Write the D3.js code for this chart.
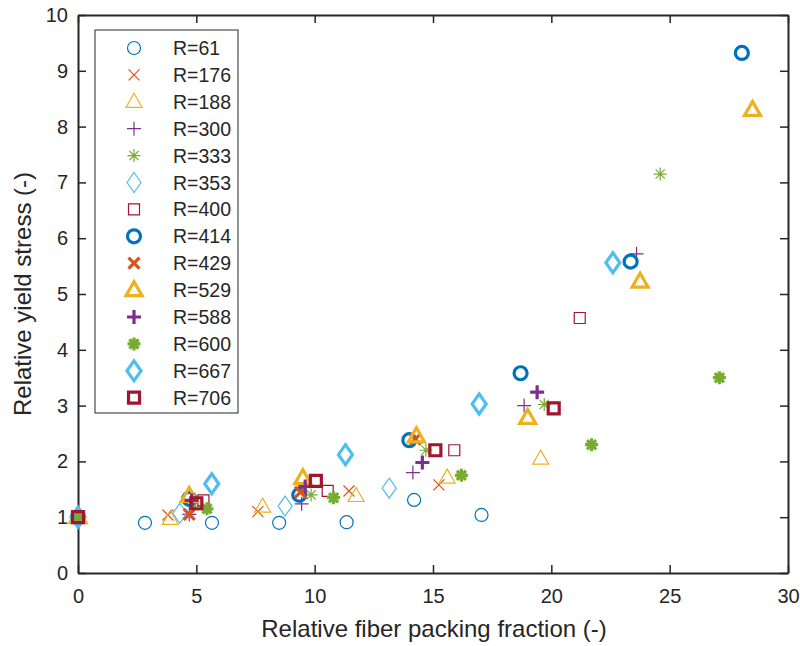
<html>
<head>
<meta charset="utf-8">
<script src="https://cdn.jsdelivr.net/npm/d3@7"></script>
<style>
body {
	margin: 0;
	background: #fff;
}
svg {
	font-family: "Liberation Sans", Arial, sans-serif;
}
.axis path, .axis line {
	stroke: #262626;
}
.axis text {
	fill: #262626;
	font-size: 20px;
}
</style>
</head>
<body>
<svg id="chart" width="800" height="646"></svg>
<script>

// 图例名称
var names = ["R=61","R=176","R=188","R=300","R=333","R=353","R=400",
             "R=414","R=429","R=529","R=588","R=600","R=667","R=706"];

// 数据 (相对纤维堆积分数, 相对屈服应力)
var r61x  = [0, 2.83, 5.66, 8.5, 11.35, 14.2, 17.05];
var r61y  = [1, 0.9, 0.9, 0.9, 0.91, 1.31, 1.04];
var r176x = [0, 3.8, 7.6, 11.45, 15.25];
var r176y = [1, 1.04, 1.1, 1.47, 1.58];
var r188x = [0, 3.9, 7.8, 11.75, 15.6, 19.55];
var r188y = [1, 0.97, 1.19, 1.38, 1.71, 2.05];
var r300x = [0, 4.7, 9.45, 14.15, 18.85, 23.6];
var r300y = [1, 1.05, 1.24, 1.8, 3.0, 5.72];
var r333x = [0, 4.9, 9.85, 14.7, 19.7, 24.6];
var r333y = [1, 1.2, 1.4, 2.2, 3.02, 7.15];
var r353x = [0, 4.3, 8.75, 13.15];
var r353y = [1, 1.07, 1.2, 1.52];
var r400x = [0, 5.3, 10.55, 15.9, 21.2];
var r400y = [1, 1.3, 1.47, 2.2, 4.57];
var r414x = [0, 4.7, 9.35, 14.0, 18.7, 23.35, 28.05];
var r414y = [1, 1.33, 1.4, 2.38, 3.58, 5.58, 9.32];
var r429x = [0, 4.7, 9.4, 14.25];
var r429y = [1, 1.05, 1.45, 2.4];
var r529x = [0, 4.7, 9.5, 14.3, 19.0, 23.75, 28.5];
var r529y = [1, 1.38, 1.7, 2.45, 2.78, 5.22, 8.3];
var r588x = [0, 4.8, 9.6, 14.55, 19.4];
var r588y = [1, 1.3, 1.55, 1.98, 3.24];
var r600x = [0, 5.45, 10.8, 16.2, 21.7, 27.1];
var r600y = [1, 1.15, 1.35, 1.75, 2.3, 3.5];
var r667x = [0, 5.65, 11.3, 16.95, 22.6];
var r667y = [1, 1.6, 2.12, 3.03, 5.56];
var r706x = [0, 5.0, 10.05, 15.1, 20.1];
var r706y = [1, 1.25, 1.65, 2.2, 2.95];

var xTicks = [0, 5, 10, 15, 20, 25, 30];
var yTicks = [0, 1, 2, 3, 4, 5, 6, 7, 8, 9, 10];

var allX = [r61x,r176x,r188x,r300x,r333x,r353x,r400x,r414x,r429x,r529x,r588x,r600x,r667x,r706x];
var allY = [r61y,r176y,r188y,r300y,r333y,r353y,r400y,r414y,r429y,r529y,r588y,r600y,r667y,r706y];

// matlab 默认颜色和标记
var colors = ["#0072BD","#D95319","#EDB120","#7E2F8E","#77AC30","#4DBEEE","#A2142F"];
var markerTypes = ["o","x","^","+","*","d","s"];

var svg = d3.select("#chart"),
    margin = {top: 15, left: 78, bottom: 73, right: 12},
    width = +svg.attr("width") - margin.left - margin.right,
    height = +svg.attr("height") - margin.top - margin.bottom;

var x = d3.scaleLinear().domain([0, 30]).range([margin.left, margin.left + width]);
var y = d3.scaleLinear().domain([0, 10]).range([margin.top + height, margin.top]);

function markerPath(type) {
    var p = d3.path();
    if (type == "o") {
        p.moveTo(6.5, 0);
        p.arc(0, 0, 6.5, 0, 2 * Math.PI);
    } else if (type == "x") {
        p.moveTo(-5.5, -5.5); p.lineTo(5.5, 5.5);
        p.moveTo(-5.5, 5.5); p.lineTo(5.5, -5.5);
    } else if (type == "^") {
        p.moveTo(0, -8.5); p.lineTo(8, 5.5); p.lineTo(-8, 5.5); p.closePath();
    } else if (type == "+") {
        p.moveTo(-7, 0); p.lineTo(7, 0);
        p.moveTo(0, -7); p.lineTo(0, 7);
    } else if (type == "*") {
        p.moveTo(-6.5, 0); p.lineTo(6.5, 0);
        p.moveTo(0, -6.5); p.lineTo(0, 6.5);
        p.moveTo(-4.6, -4.6); p.lineTo(4.6, 4.6);
        p.moveTo(-4.6, 4.6); p.lineTo(4.6, -4.6);
    } else if (type == "d") {
        p.moveTo(0, -10); p.lineTo(7, 0); p.lineTo(0, 10); p.lineTo(-7, 0); p.closePath();
    } else if (type == "s") {
        p.rect(-5.5, -5.5, 11, 11);
    }
    return p.toString();
}

// 坐标轴 (刻度朝内, 四边都有)
svg.append("g").attr("class", "axis")
    .attr("transform", `translate(0,${margin.top + height})`)
    .call(d3.axisBottom(x).tickValues(xTicks).tickSizeInner(-8).tickSizeOuter(0).tickPadding(16));
svg.append("g").attr("class", "axis")
    .attr("transform", `translate(0,${margin.top})`)
    .call(d3.axisTop(x).tickValues(xTicks).tickSizeInner(-8).tickSizeOuter(0).tickFormat(""));
svg.append("g").attr("class", "axis")
    .attr("transform", `translate(${margin.left},0)`)
    .call(d3.axisLeft(y).tickValues(yTicks).tickSizeInner(-8).tickSizeOuter(0).tickPadding(10));
svg.append("g").attr("class", "axis")
    .attr("transform", `translate(${margin.left + width},0)`)
    .call(d3.axisRight(y).tickValues(yTicks).tickSizeInner(-8).tickSizeOuter(0).tickFormat(""));
svg.selectAll(".axis path").attr("stroke-width", 2);
svg.selectAll(".axis line").attr("stroke-width", 1.5);

// 散点
for (let i = 0; i < names.length; i++) {
    var pts = allX[i].map(function(v, k) { return [v, allY[i][k]]; });
    svg.append("g").selectAll("path")
        .data(pts)
        .enter().append("path")
        .attr("d", markerPath(markerTypes[i % 7]))
        .attr("transform", d => `translate(${x(d[0])},${y(d[1])})`)
        .attr("fill", "none")
        .attr("stroke", colors[i % 7])
        .attr("stroke-width", i < 7 ? 1.2 : 3.2);
}

// 图例
var legX = 95, legY = 30, legW = 143, legH = 383, step = 26.9;
svg.append("rect")
    .attr("x", legX).attr("y", legY)
    .attr("width", legW).attr("height", legH)
    .attr("fill", "#fff")
    .attr("stroke", "#262626")
    .attr("stroke-width", 1);
for (let i = 0; i < names.length; i++) {
    var cy = 48 + i * step;
    svg.append("path")
        .attr("d", markerPath(markerTypes[i % 7]))
        .attr("transform", `translate(134,${cy})`)
        .attr("fill", "none")
        .attr("stroke", colors[i % 7])
        .attr("stroke-width", i < 7 ? 1.2 : 3.2);
    svg.append("text")
        .text(names[i])
        .attr("x", 173)
        .attr("y", cy)
        .attr("dy", "0.36em")
        .attr("font-size", 19.5)
        .attr("fill", "#262626");
}

// 轴标题
svg.append("text")
    .text("Relative fiber packing fraction (-)")
    .attr("x", 434)
    .attr("y", 637)
    .attr("text-anchor", "middle")
    .attr("font-size", 24)
    .attr("fill", "#262626");
svg.append("text")
    .text("Relative yield stress (-)")
    .attr("transform", `translate(31,${margin.top + height / 2}) rotate(-90)`)
    .attr("text-anchor", "middle")
    .attr("font-size", 24)
    .attr("fill", "#262626");
</script>
</body>
</html>
